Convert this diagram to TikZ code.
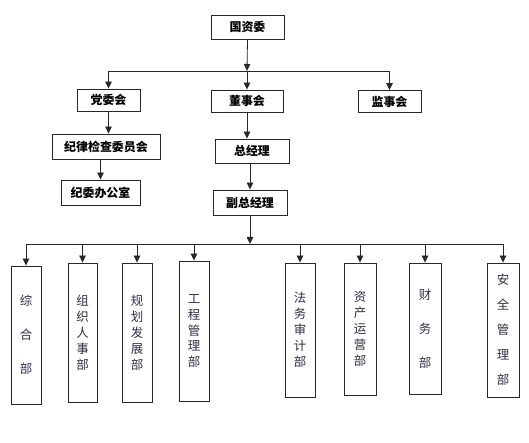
\documentclass[tikz,border=0pt]{standalone}
\usepackage{fontspec}
\usepackage{tikz}
\usetikzlibrary{arrows.meta, positioning}
\newfontfamily\cjk{Noto Sans CJK SC}
\definecolor{boxline}{RGB}{40,40,40}
\definecolor{deptink}{RGB}{45,45,70}

\begin{document}
\begin{tikzpicture}[x=1bp, y=-1bp, >={Triangle[length=7bp, width=6.5bp]},
  box/.style={draw=boxline, line width=0.9bp, minimum height=24bp, inner sep=1bp,
              font={\cjk\bfseries\fontsize{12}{14}\selectfont}},
  dept/.style={draw=boxline, line width=0.9bp, minimum width=30bp, align=center, inner sep=1bp,
               text=deptink, font={\cjk\fontsize{12.5}{16}\selectfont}},
  wide/.style={font={\cjk\fontsize{12.5}{34}\selectfont}},
  arr/.style={->, line width=0.8bp, draw=boxline}]
  \useasboundingbox (0,0) rectangle (529,443);

  % top of the tree
  \node[box, minimum width=73bp] (gzw) at (247.5,27) {国资委};
  \node[box, minimum width=63bp, minimum height=22bp] (dwh) at (108.5,100) {党委会};
  \node[box, minimum width=72bp, minimum height=22bp] (dsh) at (247,101) {董事会};
  \node[box, minimum width=63bp, minimum height=22bp] (jsh) at (389.5,101.5) {监事会};
  \node[box, minimum width=108bp, minimum height=25bp] (jlw) at (106,146.5) {纪律检查委员会};
  \node[box, minimum width=79bp, minimum height=25bp] (jwb) at (100.5,192.5) {纪委办公室};
  \node[box, minimum width=74bp] (zjl) at (252,151) {总经理};
  \node[box, minimum width=74bp, minimum height=25bp] (fzjl) at (250,202.5) {副总经理};

  % departments
  \node[dept, wide, minimum height=138bp] (zhb) at (26,335) {综\\合\\部};
  \node[dept, minimum width=29bp, minimum height=139bp] (zzb) at (82.5,332.5) {组\\织\\人\\事\\部};
  \node[dept, minimum height=139bp] (ghb) at (137,332.5) {规\\划\\发\\展\\部};
  \node[dept, minimum height=140bp] (gcb) at (194,331) {工\\程\\管\\理\\部};
  \node[dept, minimum height=134bp] (fwb) at (300,330) {法\\务\\审\\计\\部};
  \node[dept, minimum width=32bp, minimum height=132bp] (zcb) at (360,329) {资\\产\\运\\营\\部};
  \node[dept, wide, minimum width=32bp, minimum height=131bp] (cwb) at (425,328.5) {财\\务\\部};
  \node[dept, minimum width=32bp, minimum height=134bp, font={\cjk\fontsize{12.5}{25}\selectfont}]
    (aqb) at (503,330) {安\\全\\管\\理\\部};

  % connectors
  \coordinate (b1) at (247,71);
  \coordinate (b2) at (250,244);
  \draw[arr] (gzw.south) -- (b1);
  \draw[line width=0.8bp, boxline] (dwh.north |- b1) -- (jsh.north |- b1);
  \foreach \n in {dwh, dsh, jsh}
    \draw[arr] (\n.north |- b1) -- (\n.north);
  \draw[arr] (dwh.south) -- (dwh.south |- jlw.north);
  \draw[arr] (jlw.south -| jwb.north) -- (jwb.north);
  \draw[arr] (dsh.south) -- (dsh.south |- zjl.north);
  \draw[arr] (zjl.south -| fzjl.north) -- (fzjl.north);
  \draw[arr] (fzjl.south) -- (fzjl.south |- b2);
  \draw[line width=0.8bp, boxline] (zhb.north |- b2) -- (aqb.north |- b2);
  \foreach \n in {zhb, zzb, ghb, gcb, fwb, zcb, cwb, aqb}
    \draw[arr] (\n.north |- b2) -- (\n.north);
\end{tikzpicture}
\end{document}
